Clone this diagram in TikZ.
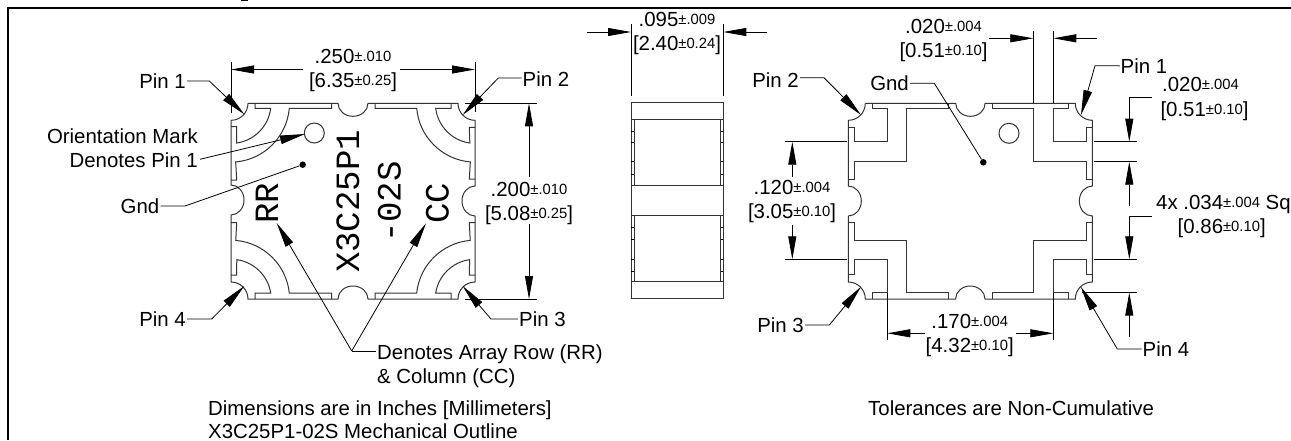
\documentclass[tikz,border=0pt]{standalone}
\usepackage{fontspec}
\usepackage{amsmath}
\setmainfont{Liberation Sans}
\newfontfamily\markfont{Liberation Mono}
\usetikzlibrary{arrows.meta}

\newcommand{\tolr}[2]{#1{\fontsize{14.8}{14.8}\selectfont\raisebox{2pt}{#2}}}

\tikzset{
    lbl/.style={inner sep=1pt, text height=14pt, text depth=0pt, font=\fontsize{20.4}{24}\selectfont, align=center},
    foot/.style={inner sep=0pt, text height=14pt, text depth=0pt, font=\fontsize{20.4}{24}\selectfont, anchor=west},
    marktxt/.style={inner sep=0pt, rotate=90, text height=23pt, text depth=0pt, font=\markfont\fontsize{34}{34}\selectfont},
    body/.style={line width=1pt, black!80},
    thinl/.style={line width=0.8pt},
    ldr/.style={line width=0.8pt, -{Triangle[length=25pt,width=8.5pt]}},
    dimarr/.style={line width=0.8pt, -{Triangle[length=23pt,width=8pt]}},
    dot/.style={circle, fill=black, inner sep=0pt, minimum size=6.5pt}
}

\begin{document}
\begin{tikzpicture}[x=1pt,y=1pt,yscale=-1]
    \useasboundingbox (0,0) rectangle (1291,440);

    \draw[line width=2.2pt] (8,440) -- (8,7.7) -- (1291,7.7); % frame
    \draw[line width=1.2pt] (241,0.5) -- (248,0.5);

%left view
    \draw[body] (248,103.3) -- (338,103.3) arc (180:0:15 and 13) -- (458,103.3) arc (180:90:17)
        -- (475,186) arc (270:90:13 and 15) -- (475,282) arc (270:180:17)
        -- (368,299) arc (360:180:15 and 13) -- (248,299) arc (360:270:17)
        -- (231,215) arc (90:-90:13 and 15) -- (231,120.3) arc (90:0:17); % outline
    \draw[body] (255,103.3) -- (255,108.3) -- (270.7,108.3) arc (7:82:40) -- (236.7,126.7) -- (231,126.7); % pin 1
    \draw[body] (331.7,103.3) -- (331.7,108.3) -- (289.3,108.3) arc (5:85:59) -- (236.7,180) -- (231,180);
    \draw[body] (451,103.3) -- (451,108.3) -- (435.7,108.3) arc (173:98:40) -- (469.3,127.3) -- (475,127.3); % pin 2
    \draw[body] (375,103.3) -- (375,108.3) -- (416.7,108.3) arc (175:95:59) -- (469.3,179) -- (475,179);
    \draw[body] (255,299) -- (255,293) -- (270.7,293) arc (-9:-82:40) -- (236.7,275) -- (231,275); % pin 4
    \draw[body] (331.7,299) -- (331.7,293) -- (289.3,293) arc (-6:-85:59) -- (236.7,222.7) -- (231,222.7);
    \draw[body] (451,299) -- (451,293) -- (435.7,293) arc (189:262:40) -- (469.3,275) -- (475,275); % pin 3
    \draw[body] (375,299) -- (375,293) -- (416.7,293) arc (186:265:59) -- (469.3,222.7) -- (475,222.7);
    \draw[body] (314.3,133) circle (10); % orientation mark

    \node[marktxt] (mRR) at (266.5,203) {RR};
    \node[marktxt] (mPN) at (347.5,201.5) {X3C25P1};
    \node[marktxt] (mDS) at (389,202) {-02S};
    \node[marktxt] (mCC) at (437,203) {CC};

    \coordinate (E1a) at (231,62);
    \coordinate (E1b) at (231,113);
    \coordinate (E2a) at (475,62);
    \coordinate (E2b) at (475,112);
    \coordinate (E3a) at (465,103.3);
    \coordinate (E3b) at (537,103.3);
    \coordinate (E4a) at (465,299);
    \coordinate (E4b) at (537,299);
    \draw[thinl] (E1a) -- (E1b);
    \draw[thinl] (E2a) -- (E2b);
    \draw[thinl] (E3a) -- (E3b);
    \draw[thinl] (E4a) -- (E4b);

    \node[lbl] (D250) at (353,80.7) {\tolr{.250}{±.010}\\{[}\tolr{6.35}{±0.25}{]}};
    \coordinate (D250a) at (303,69.5);
    \coordinate (D250b) at (400,69.5);
    \coordinate (D250c) at (231,69.5);
    \coordinate (D250d) at (475,69.5);
    \draw[dimarr] (D250a) -- (D250c);
    \draw[dimarr] (D250b) -- (D250d);

    \node[lbl] (D200) at (529,213.7) {\tolr{.200}{±.010}\\{[}\tolr{5.08}{±0.25}{]}};
    \coordinate (D200a) at (529,177);
    \coordinate (D200b) at (529,224);
    \coordinate (D200c) at (529,103.3);
    \coordinate (D200d) at (529,299);
    \draw[dimarr] (D200a) -- (D200c);
    \draw[dimarr] (D200b) -- (D200d);

    \node[lbl, anchor=east] (P1) at (187,81) {Pin 1};
    \coordinate (P1k) at (209.3,81);
    \coordinate (P1t) at (244.3,114.3);
    \draw[ldr] (P1) -- (P1k) -- (P1t);

    \node[lbl, anchor=west] (P2) at (521.5,79) {Pin 2};
    \coordinate (P2k) at (498.3,78);
    \coordinate (P2t) at (462.7,115);
    \draw[ldr] (P2.west |- P2k) -- (P2k) -- (P2t);

    \node[lbl, anchor=east] (P4) at (187,319) {Pin 4};
    \coordinate (P4k) at (211.7,319);
    \coordinate (P4t) at (244.3,286);
    \draw[ldr] (P4) -- (P4k) -- (P4t);

    \node[lbl, anchor=west] (P3) at (518,319) {Pin 3};
    \coordinate (P3k) at (491,319);
    \coordinate (P3t) at (462.7,286);
    \draw[ldr] (P3) -- (P3k) -- (P3t);

    \node[lbl, anchor=east, align=right] (OM) at (199,160) {Orientation Mark\\Denotes Pin 1};
    \coordinate (OMa) at (200,159.3);
    \coordinate (OMt) at (305,134);
    \draw[ldr] (OMa) -- (OMt);

    \node[lbl, anchor=east] (G1) at (160.5,206) {Gnd};
    \coordinate (G1k) at (185,206);
    \node[dot] (G1d) at (302.7,164.7) {};
    \draw[thinl] (G1) -- (G1k) -- (G1d);

    \node[lbl, anchor=west, align=left] (AR) at (376,376) {Denotes Array Row (RR)\\\& Column (CC)};
    \coordinate (ARk) at (351.7,351);
    \coordinate (ARa) at (376,351);
    \coordinate (ARb) at (276.7,223);
    \coordinate (ARc) at (426,223.3);
    \draw[thinl] (ARa) -- (ARk);
    \draw[ldr] (ARk) -- (ARb);
    \draw[ldr] (ARk) -- (ARc);

    \node[foot] (F1) at (208,408) {Dimensions are in Inches [Millimeters]};
    \node[foot] (F2) at (208,431.5) {X3C25P1-02S Mechanical Outline};

%side view
    \draw[body] (631,102.7) rectangle (723.3,298.3);
    \draw[body] (631,119.3) -- (723.3,119.3);
    \draw[body] (631,185.7) -- (723.3,185.7);
    \draw[body] (631,215.7) -- (723.3,215.7);
    \draw[body] (631,281.7) -- (723.3,281.7);
    \draw[body] (634,119.3) -- (634,185.7);
    \draw[body] (634,215.7) -- (634,281.7);
    \draw[body] (720.5,119.3) -- (720.5,185.7);
    \draw[body] (720.5,215.7) -- (720.5,281.7);
    \draw[thinl] (631,131) -- (634,131) (631,142.7) -- (634,142.7) (631,161.7) -- (634,161.7) (631,174) -- (634,174);
    \draw[thinl] (631,227.3) -- (634,227.3) (631,239.3) -- (634,239.3) (631,259.3) -- (634,259.3) (631,271.7) -- (634,271.7);
    \draw[thinl] (720.5,131) -- (723.3,131) (720.5,142.7) -- (723.3,142.7) (720.5,161.7) -- (723.3,161.7) (720.5,174) -- (723.3,174);
    \draw[thinl] (720.5,227.3) -- (723.3,227.3) (720.5,239.3) -- (723.3,239.3) (720.5,259.3) -- (723.3,259.3) (720.5,271.7) -- (723.3,271.7);

    \coordinate (E5a) at (631,24);
    \coordinate (E5b) at (631,95.7);
    \coordinate (E6a) at (723.3,24);
    \coordinate (E6b) at (723.3,95.7);
    \draw[thinl] (E5a) -- (E5b);
    \draw[thinl] (E6a) -- (E6b);

    \node[lbl] (D095) at (677,43.3) {\tolr{.095}{±.009}\\{[}\tolr{2.40}{±0.24}{]}};
    \coordinate (D095a) at (586.7,32);
    \coordinate (D095b) at (767.3,32);
    \coordinate (D095c) at (631,32);
    \coordinate (D095d) at (723.3,32);
    \draw[dimarr] (D095a) -- (D095c);
    \draw[dimarr] (D095b) -- (D095d);

%right view
    \draw[body] (865.3,103.3) -- (955.7,103.3) arc (180:0:14.7 and 13) -- (1075.3,103.3) arc (180:90:17)
        -- (1092.3,186) arc (270:90:13 and 15) -- (1092.3,282) arc (270:180:17)
        -- (985,299) arc (360:180:14.7 and 13) -- (865.3,299) arc (360:270:17)
        -- (848.3,216) arc (90:-90:13 and 15) -- (848.3,120.3) arc (90:0:17); % outline
    \draw[body] (872.3,103.3) -- (872.3,108.3) -- (887.3,108.3) -- (887.3,141.7) -- (854,141.7) -- (854,127.3) -- (848.3,127.3); % pin 2
    \draw[body] (948.3,103.3) -- (948.3,108.3) -- (906.7,108.3) -- (906.7,161.7) -- (854,161.7) -- (854,179) -- (848.3,179);
    \draw[body] (1068.3,103.3) -- (1068.3,108.3) -- (1053.3,108.3) -- (1053.3,141.7) -- (1086.7,141.7) -- (1086.7,127.3) -- (1092.3,127.3); % pin 1
    \draw[body] (992.3,103.3) -- (992.3,108.3) -- (1033.3,108.3) -- (1033.3,161.7) -- (1086.7,161.7) -- (1086.7,179) -- (1092.3,179);
    \draw[body] (872.3,299) -- (872.3,292.5) -- (887.3,292.5) -- (887.3,259.3) -- (854,259.3) -- (854,274) -- (848.3,274); % pin 3
    \draw[body] (948.3,299) -- (948.3,292.5) -- (906.7,292.5) -- (906.7,240) -- (854,240) -- (854,222.7) -- (848.3,222.7);
    \draw[body] (1068.3,299) -- (1068.3,292.5) -- (1053.3,292.5) -- (1053.3,259.3) -- (1086.7,259.3) -- (1086.7,274) -- (1092.3,274); % pin 4
    \draw[body] (992.3,299) -- (992.3,292.5) -- (1033.3,292.5) -- (1033.3,240) -- (1086.7,240) -- (1086.7,222.7) -- (1092.3,222.7);
    \draw[body] (1009,133.3) circle (10); % orientation mark

    \coordinate (E7a) at (1033.3,31);
    \coordinate (E7b) at (1033.3,103.3);
    \coordinate (E8a) at (1053.3,31);
    \coordinate (E8b) at (1053.3,103.3);
    \draw[thinl] (E7a) -- (E7b);
    \draw[thinl] (E8a) -- (E8b);

    \coordinate (E9a) at (1093.5,141.7);
    \coordinate (E9b) at (1137.3,141.7);
    \coordinate (E10a) at (1093.5,161.7);
    \coordinate (E10b) at (1137.3,161.7);
    \coordinate (E11a) at (1093.5,259.3);
    \coordinate (E11b) at (1137.3,259.3);
    \coordinate (E12a) at (1081.7,292.5);
    \coordinate (E12b) at (1137.3,292.5);
    \draw[thinl] (E9a) -- (E9b);
    \draw[thinl] (E10a) -- (E10b);
    \draw[thinl] (E11a) -- (E11b);
    \draw[thinl] (E12a) -- (E12b);

    \coordinate (E13a) at (785,141.7);
    \coordinate (E13b) at (846.7,141.7);
    \coordinate (E14a) at (785,259.3);
    \coordinate (E14b) at (846.7,259.3);
    \draw[thinl] (E13a) -- (E13b);
    \draw[thinl] (E14a) -- (E14b);

    \coordinate (E15a) at (887.3,293);
    \coordinate (E15b) at (887.3,340);
    \coordinate (E16a) at (1053.3,293);
    \coordinate (E16b) at (1053.3,340);
    \draw[thinl] (E15a) -- (E15b);
    \draw[thinl] (E16a) -- (E16b);

    \node[lbl] (D020a) at (943.5,50.7) {\tolr{.020}{±.004}\\{[}\tolr{0.51}{±0.10}{]}};
    \coordinate (D020p) at (989.3,38.3);
    \coordinate (D020q) at (1097.3,38.3);
    \coordinate (D020r) at (1033.3,38.3);
    \coordinate (D020s) at (1053.3,38.3);
    \draw[dimarr] (D020p) -- (D020r);
    \draw[dimarr] (D020q) -- (D020s);

    \node[lbl] (D020b) at (1200.5,84.3) {\tolr{.020}{±.004}};
    \node[lbl] (D051b) at (1204.5,109) {{[}\tolr{0.51}{±0.10}{]}};
    \coordinate (D020t) at (1151.7,97.7);
    \coordinate (D020u) at (1129.3,97.7);
    \coordinate (D020v) at (1129.3,141.7);
    \draw[dimarr] (D020t) -- (D020u) -- (D020v);

    \node[lbl, anchor=west] (D034) at (1155,202.3) {4x \tolr{.034}{±.004} Sq};
    \node[lbl] (D086) at (1221.7,226) {{[}\tolr{0.86}{±0.10}{]}};
    \coordinate (D034a) at (1129.3,205.7);
    \coordinate (D034b) at (1129.3,161.7);
    \coordinate (D034c) at (1151.7,216);
    \coordinate (D034d) at (1129.3,216);
    \coordinate (D034e) at (1129.3,259.3);
    \draw[dimarr] (D034a) -- (D034b);
    \draw[dimarr] (D034c) -- (D034d) -- (D034e);

    \coordinate (D020w) at (1129.3,336.7);
    \coordinate (D020x) at (1129.3,292.5);
    \draw[dimarr] (D020w) -- (D020x);

    \node[lbl] (D120) at (792,211.5) {\tolr{.120}{±.004}\\{[}\tolr{3.05}{±0.10}{]}};
    \coordinate (D120a) at (792.3,176.7);
    \coordinate (D120b) at (792.3,225);
    \coordinate (D120c) at (792.3,141.7);
    \coordinate (D120d) at (792.3,259.3);
    \draw[dimarr] (D120a) -- (D120c);
    \draw[dimarr] (D120b) -- (D120d);

    \node[lbl] (D170) at (969.7,345) {\tolr{.170}{±.004}\\{[}\tolr{4.32}{±0.10}{]}};
    \coordinate (D170a) at (925,333.3);
    \coordinate (D170b) at (1016,333.3);
    \coordinate (D170c) at (887.3,333.3);
    \coordinate (D170d) at (1053.3,333.3);
    \draw[dimarr] (D170a) -- (D170c);
    \draw[dimarr] (D170b) -- (D170d);

    \node[lbl, anchor=east] (Q2) at (800,80) {Pin 2};
    \coordinate (Q2k) at (824,77.7);
    \coordinate (Q2t) at (861,115);
    \draw[ldr] (Q2.east |- Q2k) -- (Q2k) -- (Q2t);

    \node[lbl, anchor=west] (Q1) at (1119.5,66) {Pin 1};
    \coordinate (Q1k) at (1095,65.7);
    \coordinate (Q1t) at (1081,115);
    \draw[ldr] (Q1) -- (Q1k) -- (Q1t);

    \node[lbl, anchor=east] (Q3) at (805,325) {Pin 3};
    \coordinate (Q3k) at (829.3,325);
    \coordinate (Q3t) at (861,286.7);
    \draw[ldr] (Q3) -- (Q3k) -- (Q3t);

    \node[lbl, anchor=west] (Q4) at (1141.5,349) {Pin 4};
    \coordinate (Q4k) at (1117.3,349);
    \coordinate (Q4t) at (1080.7,286.7);
    \draw[ldr] (Q4) -- (Q4k) -- (Q4t);

    \node[lbl, anchor=east] (G2) at (910,83.3) {Gnd};
    \coordinate (G2k) at (934.3,83.3);
    \node[dot] (G2d) at (983.3,162.3) {};
    \draw[thinl] (G2) -- (G2k) -- (G2d);

    \node[foot] (F3) at (868,408) {Tolerances are Non-Cumulative};
\end{tikzpicture}
\end{document}
